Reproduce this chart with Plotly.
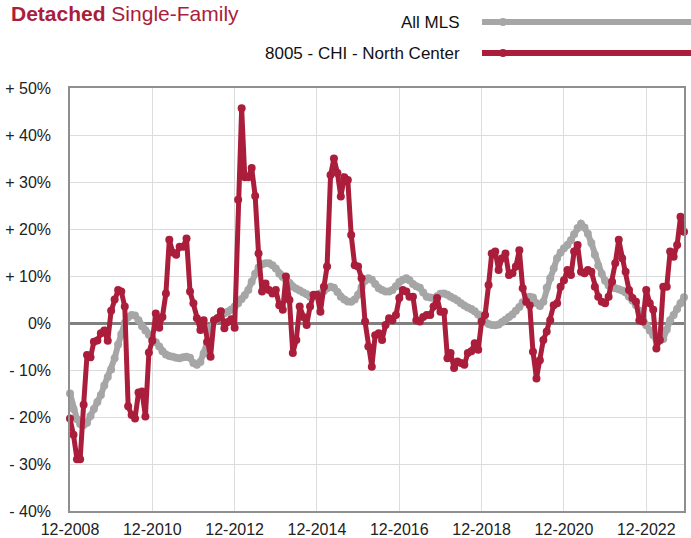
import pandas as pd
import plotly.graph_objects as go

# Monthly dates, 12-2008 .. 11-2023
months = pd.date_range("2008-12-01", periods=180, freq="MS")

all_mls = [
    -15, -18.3, -20.5, -21.5, -21.7, -21.2, -19.8, -18.3, -16.8, -15.3,
    -13.3, -11.5, -9.9, -7.5, -4.6, -2.4, 0, 1.2, 1.7, 1.6,
    0.6, -0.7, -1.6, -2.5, -3.2, -4.1, -5, -6, -6.7, -7,
    -7.2, -7.4, -7.5, -7.3, -7.2, -7.4, -8.5, -8.9, -8.3, -6.5,
    -4.2, -1, 0.2, 1, 1.6, 2.1, 2.4, 2.8, 3.5, 4.2,
    5.1, 5.9, 7, 8.8, 10.5, 11.8, 12.5, 12.7, 12.7, 12.3,
    11.6, 10.5, 9.8, 9.2, 8.5, 7.7, 7.3, 6.9, 6.5, 6.1,
    5.6, 5.7, 6, 6.3, 6.8, 7.4, 7.7, 7.5, 6.6, 5.6,
    5, 4.6, 4.5, 5, 6, 7.6, 9, 9.5, 9.2, 8.3,
    7.4, 7, 6.7, 6.7, 7, 7.8, 8.7, 9.2, 9.5, 9.1,
    8.3, 7.8, 7.5, 6.5, 5.6, 5.4, 5.3, 5.7, 6.2, 6.3,
    6, 5.6, 5.2, 4.8, 4.2, 3.7, 3.3, 3, 2.5, 1.8,
    0.9, 0.2, -0.2, -0.4, -0.5, -0.3, 0.2, 0.7, 1.3, 1.8,
    2.6, 3.4, 4.4, 5.2, 5.6, 5.4, 4.2, 3.6, 4.5, 7.5,
    9.5, 11.6, 13.8, 15, 15.9, 16.6, 17.6, 18.9, 20.2, 21.1,
    20.3, 19, 17, 14.5, 12.2, 10.5, 9, 8, 7.6, 7.4,
    7.2, 6.9, 6.5, 5.6, 4.8, 3.8, 2.6, 1.4, -0.5, -1.6,
    -2.6, -3.5, -3.7, -3.4, -1.4, 0.6, 1.7, 3, 4.2, 5.5,
]

north_center = [
    -20.3, -23.8, -29, -29, -17.4, -6.8, -7.3, -4, -3.7, -2.2,
    -1.6, -3.8, 2.6, 5, 7, 6.7, 3.5, -17.7, -19.6, -20.3,
    -14.8, -14.6, -19.9, -6.3, -3.8, 2, -1, 1.3, 6.3, 17.7,
    15, 14.5, 16.2, 16.2, 18, 6.7, 4.2, 1, -1.5, 0.6,
    -4, -7.2, 0.6, 1, 2.5, -1.1, 0.2, 0.8, -1, 26.2,
    45.7, 31, 31, 33, 27, 14.8, 6.7, 8.4, 7, 6.3,
    7, 3.8, 2.8, 9.9, 4.9, -6.4, -3.6, 3.5, 1.3, -0.4,
    3.5, 6, 6, 2.4, 7.7, 12, 31.5, 35, 31.9, 26.9,
    31, 30.4, 18.7, 12.3, 12, 9.5, 0.3, -5, -9.3, -2.6,
    -2.2, -3.6, -0.4, 1, 0.6, 1.7, 5.3, 7, 6.7, 5.6,
    5.6, 0.6, 0.3, 1.3, 1.7, 1.7, 3.5, 5.3, 2.4, 2.4,
    -7.5, -6.4, -9.6, -8.2, -8.5, -8.9, -6.4, -6, -4.3, -5.7,
    0.3, 1.7, 8.1, 14.8, 15.2, 11.3, 13.8, 14.8, 10.2, 10.6,
    12, 15.5, 7.4, 4.5, 3.8, -6.1, -11.8, -7.9, -3.6, -1.8,
    0.6, 3.8, 4.2, 7.7, 9.1, 11.3, 10.2, 15.2, 16.6, 10.9,
    10.6, 11.3, 10.9, 7.7, 5.6, 4.5, 4.2, 5.6, 8.8, 12.7,
    17.7, 13.8, 10.9, 7, 5.3, 4.5, 0.6, 0.3, 7, 4.2,
    2.8, -5.4, -3.6, 7.7, 7.7, 15.2, 14.1, 16.6, 22.6, 19.4,
]

tick_dates = ["2008-12-01", "2010-12-01", "2012-12-01", "2014-12-01",
              "2016-12-01", "2018-12-01", "2020-12-01", "2022-12-01"]
tick_text = ["12-2008", "12-2010", "12-2012", "12-2014",
             "12-2016", "12-2018", "12-2020", "12-2022"]
y_ticks = [-40, -30, -20, -10, 0, 10, 20, 30, 40, 50]
y_text = ["- 40%", "- 30%", "- 20%", "- 10%", "0%",
          "+ 10%", "+ 20%", "+ 30%", "+ 40%", "+ 50%"]

GRAY = "#A6A6A6"
RED = "#AA1D3B"
FONT = "Liberation Sans, Arial, sans-serif"

W, H = 691, 538
ML, MR, MT, MB = 70, 7, 88, 27
PW, PH = W - ML - MR, H - MT - MB

fig = go.Figure()
fig.add_trace(go.Scatter(
    x=months, y=all_mls, mode="lines+markers", name="All MLS",
    line=dict(color=GRAY, width=6), marker=dict(color=GRAY, size=8),
    cliponaxis=False, showlegend=False))
fig.add_trace(go.Scatter(
    x=months, y=north_center, mode="lines+markers",
    name="8005 - CHI - North Center",
    line=dict(color=RED, width=5), marker=dict(color=RED, size=8),
    cliponaxis=False, showlegend=False))

fig.update_layout(
    width=W, height=H,
    margin=dict(l=ML, r=MR, t=MT, b=MB, autoexpand=False),
    paper_bgcolor="white", plot_bgcolor="white",
    font=dict(family=FONT, size=16, color="#222222"),
    xaxis=dict(
        range=["2008-12-01", "2023-11-01"],
        tickvals=tick_dates, ticktext=tick_text,
        showgrid=True, gridcolor="#DCDCDC", gridwidth=1,
        showline=True, linecolor="#8F8F8F", linewidth=1.5, mirror=True,
        ticks="", tickfont=dict(size=16, color="#222222"),
        ticklabelstandoff=3, automargin=False,
        zeroline=False,
    ),
    yaxis=dict(
        range=[-40, 50], tickvals=y_ticks, ticktext=y_text,
        showgrid=True, gridcolor="#DCDCDC", gridwidth=1,
        showline=True, linecolor="#8F8F8F", linewidth=1.5, mirror=True,
        ticks="", ticklabelstandoff=14, automargin=False,
        tickfont=dict(size=16, color="#222222"),
        zeroline=True, zerolinecolor="#808080", zerolinewidth=2.5,
    ),
)

# Title at the very top
fig.add_annotation(
    xref="paper", yref="paper", x=(9 - ML) / PW, y=1 + MT / PH,
    xanchor="left", yanchor="top", showarrow=False,
    text="<b>Detached</b> Single-Family",
    font=dict(family=FONT, size=21, color=RED))

# Legend entries drawn on the right: text then line sample
legend_items = [("All MLS", GRAY, 22), ("8005 - CHI - North Center", RED, 53)]
for label, color, ypx in legend_items:
    yp = 1 + (MT - ypx) / PH
    fig.add_annotation(
        xref="paper", yref="paper", x=(462 - ML) / PW, y=yp,
        xanchor="right", yanchor="middle", showarrow=False,
        text=label, font=dict(family=FONT, size=17, color="#111111"))
    fig.add_shape(type="line", xref="paper", yref="paper",
                  x0=(482 - ML) / PW, x1=(700 - ML) / PW, y0=yp, y1=yp,
                  line=dict(color=color, width=6))
    fig.add_shape(type="circle", xref="paper", yref="paper",
                  x0=(499 - ML) / PW, x1=(507 - ML) / PW,
                  y0=yp - 4 / PH, y1=yp + 4 / PH,
                  fillcolor=color, line=dict(color=color, width=0))

fig.write_html("out.html",
               config={"displayModeBar": False},
               post_script="document.body.style.margin='0';"
                           "document.body.style.overflow='hidden';")
